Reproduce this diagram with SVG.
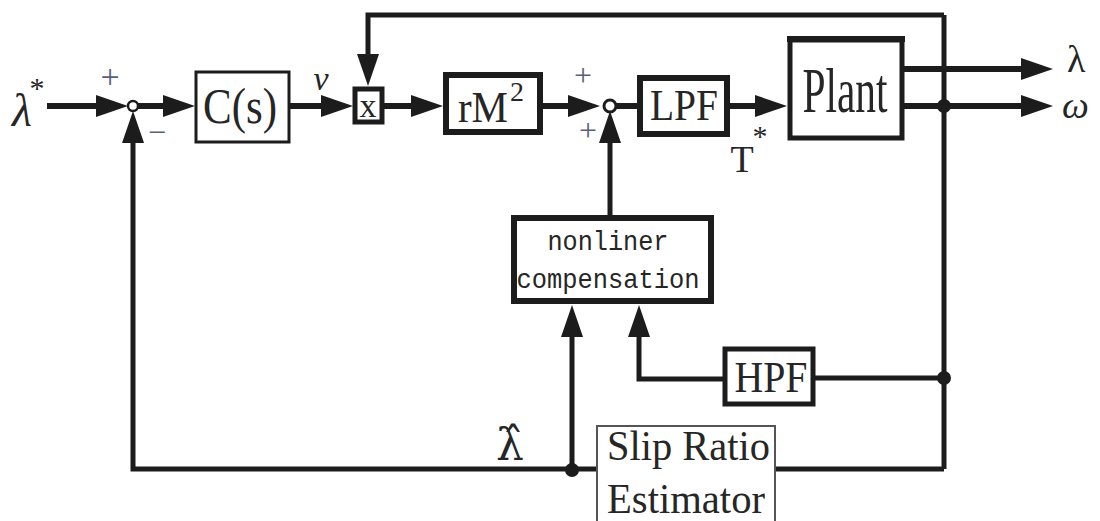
<svg xmlns="http://www.w3.org/2000/svg" width="1100" height="521" viewBox="0 0 1100 521">
<style>
.ln{fill:none;stroke:#1c1c1c;stroke-width:6;stroke-linejoin:miter}
.thin{stroke-width:5}
.box{fill:#fff;stroke:#1c1c1c}
.t{font-family:"Liberation Serif","DejaVu Serif",serif;fill:#262626}
.m{font-family:"Liberation Mono","DejaVu Sans Mono",monospace;fill:#262626}
.pm{font-family:"Liberation Serif","DejaVu Serif",serif;fill:#5a5f78}
.dot{fill:#1c1c1c}
</style>
<defs>
<marker id="ah" viewBox="0 0 32 22" refX="12" refY="11" markerWidth="32" markerHeight="22" markerUnits="userSpaceOnUse" orient="auto">
<path d="M0,0 L32,11 L0,22 Z" fill="#1c1c1c"/>
</marker>
</defs>
<rect width="1100" height="521" fill="#fff"/>

<g id="connectors">
<path class="ln" d="M47,106 H108" marker-end="url(#ah)"/>
<path class="ln" d="M138,106 H175" marker-end="url(#ah)"/>
<path class="ln" d="M290,106 H333" marker-end="url(#ah)"/>
<path class="ln thin" d="M944,15 V469"/>
<path class="ln thin" d="M944,15 H368 V66" marker-end="url(#ah)"/>
<path class="ln" d="M383,106 H423" marker-end="url(#ah)"/>
<path class="ln" d="M543,106 H580" marker-end="url(#ah)"/>
<path class="ln" d="M616,106 H638"/>
<path class="ln" d="M728,106 H767" marker-end="url(#ah)"/>
<path class="ln" d="M903,69 H1033" marker-end="url(#ah)"/>
<path class="ln" d="M903,106 H1033" marker-end="url(#ah)"/>
<path class="ln thin" d="M610,215 V131" marker-end="url(#ah)"/>
<path class="ln thin" d="M597,469 H133 V131" marker-end="url(#ah)"/>
<path class="ln thin" d="M572,469 V325" marker-end="url(#ah)"/>
<path class="ln thin" d="M723,379 H639 V325" marker-end="url(#ah)"/>
<path class="ln thin" d="M944,378 H815"/>
<path class="ln thin" d="M775,469 H944"/>
<circle class="dot" cx="944" cy="106" r="7"/>
<circle class="dot" cx="944" cy="378" r="7"/>
<circle class="dot" cx="572" cy="470" r="7"/>
</g>

<g id="input">
<text class="t" x="12" y="126" font-size="46" font-style="italic">λ</text>
<text class="t" x="37" y="98" font-size="30" text-anchor="middle">*</text>
</g>

<g id="sum1">
<circle cx="133" cy="106" r="5" fill="#fff" stroke="#1c1c1c" stroke-width="2.5"/>
<text class="pm" x="110" y="88" font-size="34" text-anchor="middle">+</text>
<text class="pm" x="157" y="143" font-size="32" text-anchor="middle">−</text>
</g>

<g id="cs">
<rect class="box" x="196" y="72" width="93" height="70" stroke-width="3"/>
<text class="t" x="240" y="123" font-size="50" text-anchor="middle" textLength="74" lengthAdjust="spacingAndGlyphs">C(s)</text>
</g>

<text class="t" x="321" y="90" font-size="34" font-style="italic" text-anchor="middle">v</text>

<g id="mult">
<rect class="box" x="355" y="89" width="27" height="33" stroke-width="5"/>
<text class="t" x="368" y="117" font-size="34" text-anchor="middle">x</text>
</g>

<g id="rm2">
<rect class="box" x="446" y="75" width="94" height="57" stroke-width="6"/>
<text class="t" x="458" y="122" font-size="44" textLength="50" lengthAdjust="spacingAndGlyphs">rM</text>
<text class="t" x="510" y="101" font-size="28">2</text>
</g>

<g id="sum2">
<circle cx="610" cy="106" r="6" fill="#fff" stroke="#1c1c1c" stroke-width="3"/>
<text class="pm" x="583" y="86" font-size="32" text-anchor="middle">+</text>
<text class="pm" x="588" y="141" font-size="32" text-anchor="middle">+</text>
</g>

<g id="lpf">
<rect class="box" x="640" y="78" width="87" height="56" stroke-width="6"/>
<text class="t" x="684" y="120" font-size="44" text-anchor="middle" textLength="68" lengthAdjust="spacingAndGlyphs">LPF</text>
</g>

<g id="tstar">
<text class="t" x="742" y="172" font-size="38" text-anchor="middle">T</text>
<text class="t" x="760" y="146" font-size="30" text-anchor="middle">*</text>
</g>

<g id="plant">
<rect class="box" x="790" y="40" width="112" height="98" stroke-width="5"/>
<line x1="787" y1="39" x2="905" y2="39" stroke="#1c1c1c" stroke-width="6"/>
<text class="t" x="845" y="112" font-size="64" text-anchor="middle" textLength="85" lengthAdjust="spacingAndGlyphs">Plant</text>
</g>

<g id="outputs">
<text class="t" x="1067" y="72" font-size="38">λ</text>
<text class="t" x="1062" y="118" font-size="38" font-style="italic">ω</text>
</g>

<g id="nonliner">
<rect class="box" x="514" y="218" width="197" height="83" stroke-width="6"/>
<text class="m" x="608" y="250" font-size="27" text-anchor="middle" textLength="121" lengthAdjust="spacingAndGlyphs">nonliner</text>
<text class="m" x="608" y="288" font-size="27" text-anchor="middle" textLength="183" lengthAdjust="spacingAndGlyphs">compensation</text>
</g>

<g id="hpf">
<rect class="box" x="725" y="349" width="88" height="55" stroke-width="5"/>
<text class="t" x="771" y="392" font-size="44" text-anchor="middle" textLength="73" lengthAdjust="spacingAndGlyphs">HPF</text>
</g>

<g id="slip">
<rect x="597" y="426" width="178" height="110" fill="#fff" stroke="#555" stroke-width="2"/>
<text class="t" x="607" y="460" font-size="42" textLength="163" lengthAdjust="spacingAndGlyphs">Slip Ratio</text>
<text class="t" x="607" y="513" font-size="42" textLength="158" lengthAdjust="spacingAndGlyphs">Estimator</text>
</g>

<g id="lambdahat">
<text x="510" y="460" font-size="44" text-anchor="middle" fill="#262626" font-family="'DejaVu Serif', serif">λ̂</text>
</g>
</svg>
